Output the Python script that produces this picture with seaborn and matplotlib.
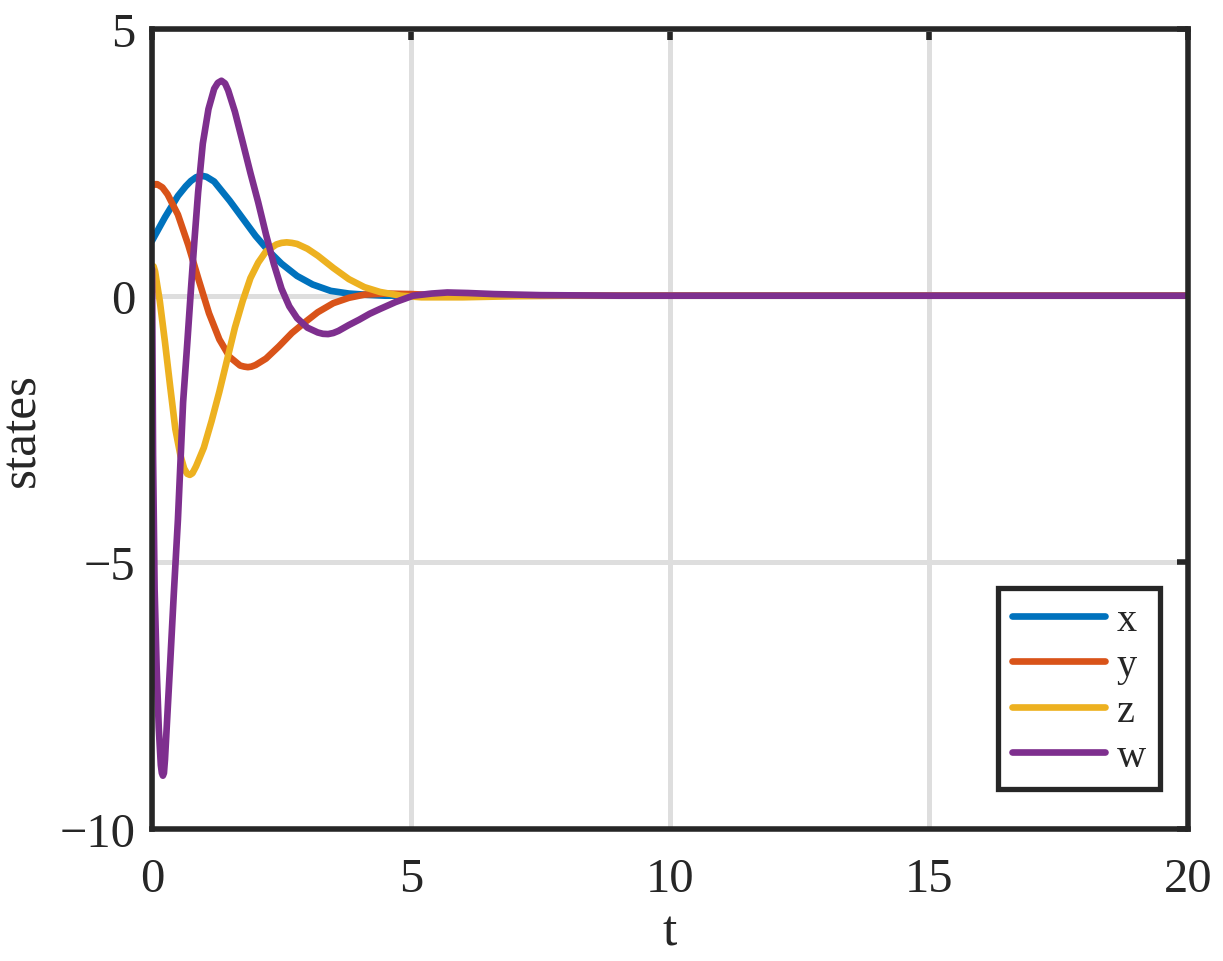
import matplotlib
matplotlib.use("Agg")
import matplotlib.pyplot as plt
import numpy as np
import pandas as pd
import seaborn as sns

# values
t_x = [0, 0.25, 0.5, 0.65, 0.75, 0.85, 0.95, 1.05, 1.2, 1.5, 1.75, 2.0, 2.25, 2.5, 2.8, 3.1, 3.45, 3.8, 4.1,
       4.5, 5, 6, 8, 10, 20]
x_vals = [1.03, 1.47, 1.87, 2.05, 2.15, 2.22, 2.25, 2.23, 2.14, 1.78, 1.45, 1.12, 0.84, 0.6, 0.37, 0.21, 0.09,
          0.04, 0.02, 0.0, 0, 0, 0, 0, 0]

t_y = [0, 0.05, 0.1, 0.2, 0.3, 0.5, 0.7, 0.9, 1.1, 1.3, 1.5, 1.7, 1.78, 1.85, 1.92, 2.0, 2.2, 2.45, 2.7, 2.95,
       3.2, 3.5, 3.8, 4.1, 4.5, 5.0, 5.5, 6.5, 8, 20]
y_vals = [2.06, 2.09, 2.09, 2.03, 1.9, 1.52, 0.95, 0.3, -0.33, -0.82, -1.15, -1.31, -1.33, -1.34, -1.33, -1.3,
          -1.18, -0.95, -0.7, -0.5, -0.31, -0.14, -0.04, 0.02, 0.04, 0.03, 0.01, 0, 0, 0]

t_z = [0, 0.03, 0.06, 0.1, 0.15, 0.25, 0.35, 0.45, 0.55, 0.62, 0.68, 0.73, 0.78, 0.85, 1.0, 1.15, 1.3, 1.45,
       1.6, 1.75, 1.9, 2.05, 2.2, 2.4, 2.5, 2.6, 2.7, 2.8, 3.0, 3.2, 3.5, 3.8, 4.1, 4.4, 4.8, 5.2, 6, 7, 8, 20]
z_vals = [0.5, 0.55, 0.45, 0.2, -0.1, -0.87, -1.7, -2.5, -3.0, -3.24, -3.34, -3.36, -3.33, -3.2, -2.85, -2.35,
          -1.8, -1.2, -0.6, -0.1, 0.33, 0.62, 0.83, 0.96, 0.99, 1.0, 0.99, 0.97, 0.88, 0.75, 0.52, 0.31, 0.16,
          0.07, 0.0, -0.03, -0.03, -0.01, 0, 0]

t_w = [0, 0.02, 0.05, 0.09, 0.13, 0.17, 0.19, 0.21, 0.23, 0.25, 0.3, 0.35, 0.42, 0.5, 0.6, 0.68, 0.75, 0.82,
       0.89, 0.98, 1.09, 1.2, 1.27, 1.34, 1.41, 1.47, 1.6, 1.75, 1.9, 2.05, 2.2, 2.35, 2.5, 2.65, 2.8, 3.0,
       3.2, 3.3, 3.4, 3.5, 3.6, 3.8, 4.0, 4.2, 4.4, 4.7, 5.04, 5.4, 5.7, 6.1, 6.6, 7.5, 9, 20]
w_vals = [0.5, -3.0, -5.5, -7.0, -8.1, -8.8, -8.95, -9.0, -8.95, -8.7, -7.8, -6.9, -5.6, -4.2, -2.0, -0.9,
          0.1, 1.05, 1.94, 2.85, 3.5, 3.88, 3.99, 4.03, 3.98, 3.85, 3.45, 2.88, 2.3, 1.75, 1.15, 0.6, 0.13,
          -0.2, -0.42, -0.6, -0.69, -0.715, -0.72, -0.7, -0.66, -0.55, -0.45, -0.34, -0.25, -0.12, 0.0, 0.04,
          0.06, 0.05, 0.03, 0.01, 0, 0]

series = [("x", t_x, x_vals, "#0072BD"),
          ("y", t_y, y_vals, "#D95319"),
          ("z", t_z, z_vals, "#EDB120"),
          ("w", t_w, w_vals, "#7E2F8E")]

sns.set_style("white")
plt.rcParams["font.family"] = ["Liberation Serif", "DejaVu Serif"]

fig = plt.figure(figsize=(12.23, 9.62), dpi=100)
ax = fig.add_axes([0.1243, 0.1372, 0.8471, 0.8316])

for name, tt, vv, col in series:
    df = pd.DataFrame({"t": tt, "v": vv})
    sns.lineplot(data=df, x="t", y="v", ax=ax, color=col, linewidth=4.8, label=name,
                 sort=False, estimator=None)

ax.set_xlim(0, 20)
ax.set_ylim(-10, 5)
ax.set_xticks([0, 5, 10, 15, 20])
ax.set_yticks([-10, -5, 0, 5])
ax.set_yticklabels(["\u221210", "\u22125", "0", "5"])
ax.grid(True, color="#dedede", linewidth=3.6)
ax.set_axisbelow(True)
for sp in ax.spines.values():
    sp.set_linewidth(4.0)
    sp.set_color("#262626")
ax.tick_params(direction="in", length=8, width=4.0, color="#262626", top=True, right=True,
               labelsize=35)
ax.tick_params(axis="x", pad=20)
ax.tick_params(axis="y", pad=12)
ax.set_xlabel("t", fontsize=37, labelpad=6)
ax.set_ylabel("states", fontsize=37, labelpad=10)

leg = ax.legend(loc="lower right", bbox_to_anchor=(0.973, 0.05), borderaxespad=0, fontsize=29,
                frameon=True, fancybox=False, framealpha=1, handlelength=2.3, handletextpad=0.3,
                labelspacing=0.2, borderpad=0.35)
leg.get_frame().set_edgecolor("#262626")
leg.get_frame().set_linewidth(3.8)
for h in leg.get_lines():
    h.set_linewidth(4.8)

fig.savefig("out.png", dpi=100)
